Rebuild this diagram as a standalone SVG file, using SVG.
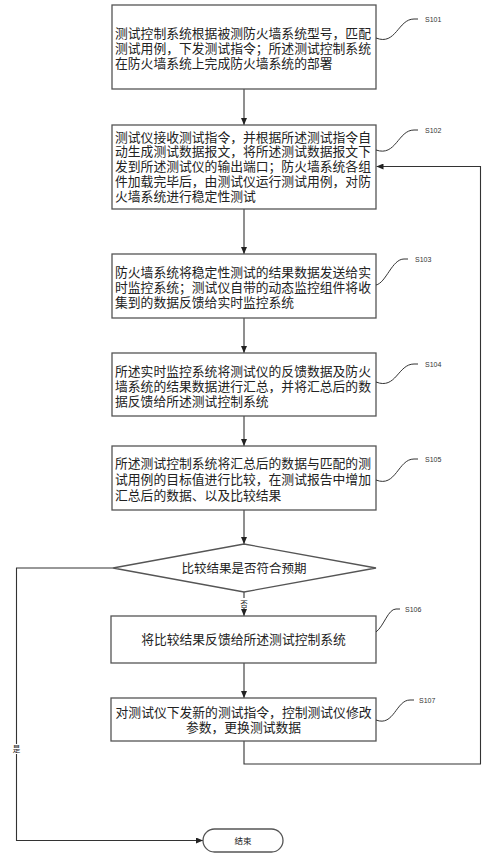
<svg xmlns="http://www.w3.org/2000/svg" width="491" height="858" viewBox="0 0 491 858">
<style>
.box{fill:#fff;stroke:#555;stroke-width:1.3}
.t{font-family:"Liberation Sans","Noto Sans CJK SC",sans-serif;font-size:12.8px;fill:#222}
.c{text-anchor:middle}
.lbl{font-family:"Liberation Sans","Noto Sans CJK SC",sans-serif;font-size:7px;fill:#333}
.cur{fill:none;stroke:#333;stroke-width:1}
.ln{fill:none;stroke:#333;stroke-width:1.1}
.sm{font-family:"Liberation Sans","Noto Sans CJK SC",sans-serif;font-size:8.5px;fill:#222;text-anchor:middle}
</style>
<defs>
<marker id="ah" markerUnits="userSpaceOnUse" markerWidth="7" markerHeight="6" refX="7" refY="3" orient="auto">
<path d="M0,0 L7,3 L0,6 z" fill="#222"/>
</marker>
</defs>
<g id="connectors">
<path class="ln" d="M244,89 V125" marker-end="url(#ah)"/>
<path class="ln" d="M244,209 V254" marker-end="url(#ah)"/>
<path class="ln" d="M244,318 V353" marker-end="url(#ah)"/>
<path class="ln" d="M244,416 V446" marker-end="url(#ah)"/>
<path class="ln" d="M244,510 V544" marker-end="url(#ah)"/>
<path class="ln" d="M244,592 V616" marker-end="url(#ah)"/>
<path class="ln" d="M244,663 V698" marker-end="url(#ah)"/>
<path class="ln" d="M244,741 V764 H480.5 V166.5 H376.5" marker-end="url(#ah)"/>
<path class="ln" d="M113,568 H16.5 V840.5 H203" marker-end="url(#ah)"/>
<rect x="238" y="598" width="11" height="10" fill="#fff"/>
<text class="sm" x="244" y="606.5" style="font-size:7.5px">否</text>
<rect x="11" y="744" width="11" height="10" fill="#fff"/>
<text class="sm" x="16.5" y="752" style="font-size:7.5px">是</text>
</g>
<g id="s101">
<rect class="box" x="112" y="5" width="264" height="84"/>
<text class="t" x="115" y="37.5">测试控制系统根据被测防火墙系统型号，匹配<tspan x="115" y="52.5">测试用例，下发测试指令；所述测试控制系统</tspan><tspan x="115" y="67.5">在防火墙系统上完成防火墙系统的部署</tspan></text>
<path class="cur" d="M376,38 C396,46 398,19 414,19 H418"/>
<text class="lbl" x="425" y="21.5">S101</text>
</g>
<g id="s102">
<rect class="box" x="112" y="125" width="264" height="84"/>
<text class="t" x="115" y="141.5">测试仪接收测试指令，并根据所述测试指令自<tspan x="115" y="156">动生成测试数据报文，将所述测试数据报文下</tspan><tspan x="115" y="170.5">发到所述测试仪的输出端口；防火墙系统各组</tspan><tspan x="115" y="185.5">件加载完毕后，由测试仪运行测试用例，对防</tspan><tspan x="115" y="200.5">火墙系统进行稳定性测试</tspan></text>
<path class="cur" d="M376,150 C396,157 398,130 414,130 H418"/>
<text class="lbl" x="425" y="133">S102</text>
</g>
<g id="s103">
<rect class="box" x="112" y="254" width="264" height="64"/>
<text class="t" x="115" y="276.5">防火墙系统将稳定性测试的结果数据发送给实<tspan x="115" y="291.5">时监控系统；测试仪自带的动态监控组件将收</tspan><tspan x="115" y="306.5">集到的数据反馈给实时监控系统</tspan></text>
<path class="cur" d="M376,285 C386,283 392,259 404,259 H408"/>
<text class="lbl" x="415" y="261.5">S103</text>
</g>
<g id="s104">
<rect class="box" x="112" y="353" width="264" height="63"/>
<text class="t" x="115" y="375.5">所述实时监控系统将测试仪的反馈数据及防火<tspan x="115" y="390.5">墙系统的结果数据进行汇总，并将汇总后的数</tspan><tspan x="115" y="405.5">据反馈给所述测试控制系统</tspan></text>
<path class="cur" d="M376,382 C396,390 398,364 414,364 H418"/>
<text class="lbl" x="425" y="366.5">S104</text>
</g>
<g id="s105">
<rect class="box" x="112" y="446" width="264" height="64"/>
<text class="t" x="115" y="467.5">所述测试控制系统将汇总后的数据与匹配的测<tspan x="115" y="484">试用例的目标值进行比较，在测试报告中增加</tspan><tspan x="115" y="499.5">汇总后的数据、以及比较结果</tspan></text>
<path class="cur" d="M376,480 C396,488 398,459 414,459 H418"/>
<text class="lbl" x="425" y="461.5">S105</text>
</g>
<g id="decision">
<polygon class="box" points="113,568 244,544 376,568 244,592"/>
<text class="t c" x="244" y="572.5" style="font-size:12.5px">比较结果是否符合预期</text>
</g>
<g id="s106">
<rect class="box" x="111" y="616" width="265" height="47"/>
<text class="t c" x="243.5" y="643.5">将比较结果反馈给所述测试控制系统</text>
<path class="cur" d="M376,632 C384,626 388,609 396,609 H400"/>
<text class="lbl" x="405" y="612">S106</text>
</g>
<g id="s107">
<rect class="box" x="111" y="698" width="265" height="43"/>
<text class="t c" x="243.5" y="716.5">对测试仪下发新的测试指令，控制测试仪修改<tspan x="243.5" y="731.5">参数，更换测试数据</tspan></text>
<path class="cur" d="M376,720 C394,727 396,700 410,700 H414"/>
<text class="lbl" x="419" y="702.5">S107</text>
</g>
<g id="end">
<rect class="box" x="203" y="829" width="80" height="23" rx="11.5"/>
<text class="sm" x="243" y="843.5">结束</text>
</g>
</svg>
